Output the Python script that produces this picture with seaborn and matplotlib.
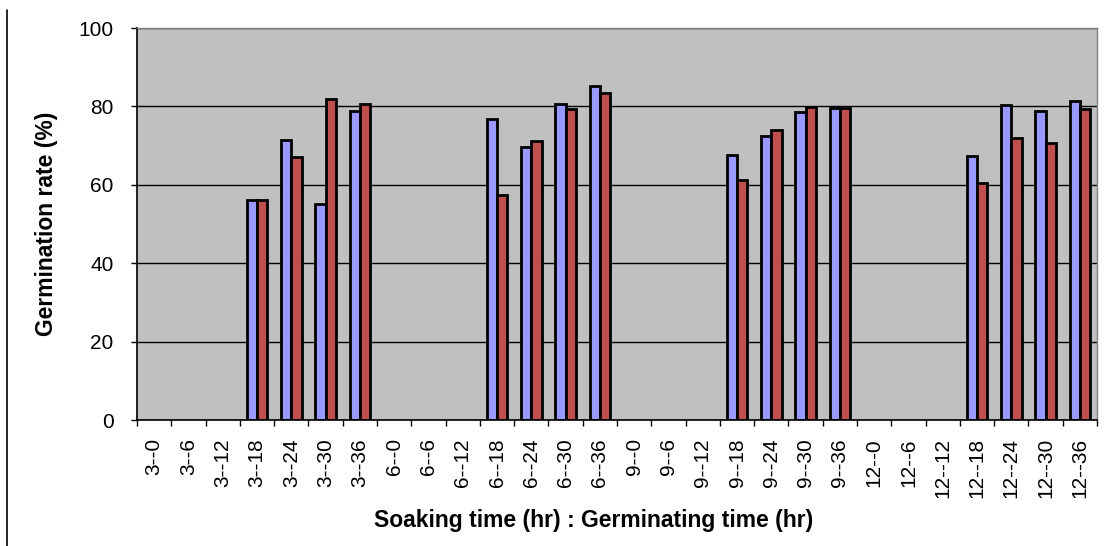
import numpy as np
import pandas as pd
import matplotlib
matplotlib.use("Agg")
import matplotlib.pyplot as plt
from matplotlib.lines import Line2D
from matplotlib.ticker import FixedLocator
import seaborn as sns

categories = ["3--0", "3--6", "3--12", "3--18", "3--24", "3--30", "3--36",
              "6--0", "6--6", "6--12", "6--18", "6--24", "6--30", "6--36",
              "9--0", "9--6", "9--12", "9--18", "9--24", "9--30", "9--36",
              "12--0", "12--6", "12--12", "12--18", "12--24", "12--30", "12--36"]
series_a = [0, 0, 0, 56.0, 71.4, 55.1, 78.7,
            0, 0, 0, 76.8, 69.7, 80.6, 85.1,
            0, 0, 0, 67.6, 72.4, 78.6, 79.6,
            0, 0, 0, 67.3, 80.3, 78.7, 81.5]
series_b = [0, 0, 0, 56.0, 67.2, 82.0, 80.6,
            0, 0, 0, 57.5, 71.2, 79.4, 83.5,
            0, 0, 0, 61.1, 74.0, 79.9, 79.6,
            0, 0, 0, 60.5, 72.0, 70.6, 79.4]
series_names = ["A", "B"]
y_ticks = [0, 20, 40, 60, 80, 100]

df = pd.DataFrame({
    "cat": categories * 2,
    "val": series_a + series_b,
    "series": [series_names[0]] * len(categories) + [series_names[1]] * len(categories),
})

sns.set_theme(style="white")
plt.rcParams["font.family"] = ["Liberation Sans", "DejaVu Sans"]
plt.rcParams["text.color"] = "black"
plt.rcParams["axes.labelcolor"] = "black"
plt.rcParams["xtick.color"] = "black"
plt.rcParams["ytick.color"] = "black"

fig = plt.figure(figsize=(11.04, 5.46), dpi=100)
ax = fig.add_axes([137 / 1104, 1 - 420 / 546, 960 / 1104, 392 / 546])
ax.set_facecolor("#C0C0C0")

sns.barplot(data=df, x="cat", y="val", hue="series", order=categories,
            palette=["#9999FF", "#C0504D"], width=0.6, gap=0,
            edgecolor="black", linewidth=2.0, saturation=1, ax=ax, legend=False)

# zero-valued bars are not drawn in the reference
for p in ax.patches:
    if p.get_height() == 0:
        p.set_visible(False)

ax.set_xlim(-0.5, len(categories) - 0.5)
ax.set_ylim(0, 100)
ax.set_yticks(y_ticks)
ax.set_yticklabels([str(t) for t in y_ticks], fontsize=15, color="black")
ax.yaxis.grid(True, color="black", linewidth=1.0)
ax.set_axisbelow(True)

ax.set_xticks(range(len(categories)))
ax.set_xticklabels(categories, rotation=90, fontsize=15, color="black")
ax.xaxis.set_minor_locator(FixedLocator(np.arange(-0.5, len(categories), 1.0)))
ax.tick_params(axis="x", which="major", length=0, pad=13)
ax.tick_params(axis="x", which="minor", length=4, width=1, color="black", direction="out", bottom=True)
ax.tick_params(axis="y", which="major", length=4, width=1, color="black", direction="out", left=True, pad=13)

for s in ["left", "bottom"]:
    ax.spines[s].set_color("black")
    ax.spines[s].set_linewidth(1.2)
for s in ["top", "right"]:
    ax.spines[s].set_color("#808080")
    ax.spines[s].set_linewidth(1.0)

ax.set_xlabel("")
ax.set_ylabel("Germination rate (%)", fontsize=16.5, fontweight="bold", color="black")
ax.yaxis.set_label_coords(-79 / 960, 0.5)

fig.text(594 / 1104, 1 - 521 / 546, "Soaking time (hr) : Germinating time (hr)",
         ha="center", va="center", fontsize=16.5, fontweight="bold", color="black")

fig.add_artist(Line2D([7 / 1104, 7 / 1104], [0, 1 - 10 / 546], color="black", linewidth=1.2))

fig.savefig("out.png", dpi=100)
